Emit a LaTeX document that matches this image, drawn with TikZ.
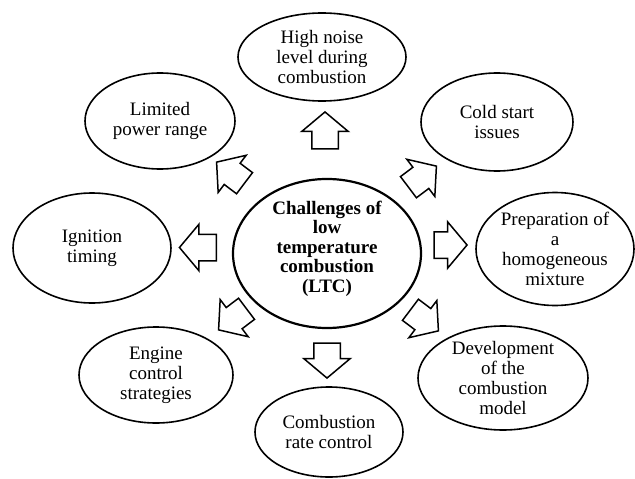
\documentclass[tikz,border=0pt]{standalone}
\usepackage{fontspec}
\setmainfont{Liberation Serif}
\usetikzlibrary{shapes.geometric,shapes.arrows}
\tikzset{
  topic/.style={ellipse, draw, line width=1.6pt, inner sep=0pt, align=center,
    font=\fontsize{19}{20}\selectfont},
  hub/.style={topic, line width=2.2pt, font=\fontsize{19}{19.5}\selectfont\bfseries},
  blockarrow/.style={single arrow, draw, line width=1.5pt, inner xsep=0pt, inner ysep=12.5pt,
    minimum width=0pt, single arrow head extend=10pt, single arrow tip angle=100},
}
\begin{document}
\begin{tikzpicture}[x=1pt,y=-1pt]
\useasboundingbox (0,0) rectangle (635,479);
\node[hub, minimum width=188pt, minimum height=144pt, text depth=14pt] (hub) at (327,253.5)
  {Challenges of\\low\\temperature\\combustion\\(LTC)};
\node[topic, minimum width=168pt, minimum height=88pt] (noise) at (322,57)
  {High noise\\level during\\combustion};
\node[topic, minimum width=152pt, minimum height=98pt] (cold) at (497,122)
  {Cold start\\issues};
\node[topic, minimum width=158pt, minimum height=113pt] (prep) at (555,249)
  {Preparation of\\a\\homogeneous\\mixture};
\node[topic, minimum width=170pt, minimum height=104pt] (dev) at (503,378)
  {Development\\of the\\combustion\\model};
\node[topic, minimum width=148pt, minimum height=90pt] (rate) at (329,432)
  {Combustion\\rate control};
\node[topic, minimum width=154pt, minimum height=96pt] (engine) at (156,375)
  {Engine\\control\\strategies};
\node[topic, minimum width=158pt, minimum height=110pt] (ign) at (92,248)
  {Ignition\\timing};
\node[topic, minimum width=150pt, minimum height=96pt] (lim) at (160,121)
  {Limited\\power range};
% block arrows
\node[blockarrow, minimum height=37pt, rotate=90] (aup) at (325,136) {};
\node[blockarrow, minimum height=35pt, rotate=-90] (adown) at (327,355) {};
\node[blockarrow, minimum height=37pt, rotate=180] (aleft) at (203.5,247.5) {};
\node[blockarrow, minimum height=33pt, rotate=0] (aright) at (445,245) {};
\node[blockarrow, minimum height=35pt, rotate=143] (aul) at (235,176) {};
\node[blockarrow, minimum height=35pt, rotate=37] (aur) at (418,180) {};
\node[blockarrow, minimum height=35pt, rotate=-143] (all) at (237,316) {};
\node[blockarrow, minimum height=35pt, rotate=-37] (alr) at (420,317) {};
\end{tikzpicture}
\end{document}
